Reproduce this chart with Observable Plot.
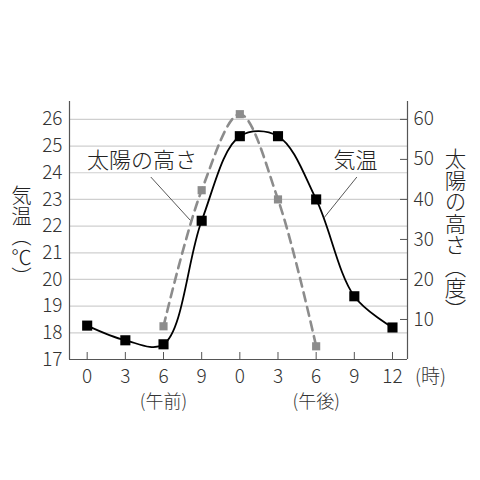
<!DOCTYPE html>
<html><head><meta charset="utf-8">
<script src="https://cdn.jsdelivr.net/npm/d3@7"></script>
<script src="https://cdn.jsdelivr.net/npm/@observablehq/plot@0.6"></script>
<style>body{margin:0;background:#fff}</style>
</head><body><div id="chart"></div>
<script>
// data
const hours = [0, 3, 6, 9, 12, 15, 18, 21, 24];
const hourLabels = ["0", "3", "6", "9", "0", "3", "6", "9", "12"];
const temperature = [18.27, 17.72, 17.57, 22.2, 25.37, 25.37, 23.0, 19.37, 18.2];
const sunHours = [6, 9, 12, 15, 18];
const sunAltitude = [8.3, 42.3, 61.3, 40, 3.3];
const tempTicks = [17, 18, 19, 20, 21, 22, 23, 24, 25, 26];
const altTicks = [10, 20, 30, 40, 50, 60];
const periodLabels = ["(午前)", "(午後)"];
const periodHours = [6, 18];
const labels = ["太陽の高さ", "気温"];
const labelHours = [4.3, 21.1];
const labelTemps = [24.45, 24.45];
const leaderX1 = [5.0, 21.2];
const leaderY1 = [23.84, 23.84];
const leaderX2 = [8.1, 18.6];
const leaderY2 = [22.22, 22.3];

const xMin = -1.39, xMax = 25.18, yMin = 17, yMax = 26.67;
const altToTemp = a => 17 + a * 9 / 60;
const tempToAlt = t => (t - 17) * 60 / 9;
const pxPerX = (480 - 69 - 73) / (xMax - xMin);
const pxPerY = (480 - 101 - 121) / (yMax - yMin);

const font = "'Noto Sans CJK JP', 'Noto Sans', sans-serif";
const tempData = hours.map((h, i) => ({h, v: temperature[i]}));
const sunData = sunHours.map((h, i) => ({h, v: altToTemp(sunAltitude[i])}));

const chart = Plot.plot({
  width: 480, height: 480,
  marginLeft: 69, marginRight: 73, marginTop: 101, marginBottom: 121,
  style: {fontFamily: font, background: "#fff", color: "#333", overflow: "visible"},
  x: {domain: [xMin, xMax], axis: null},
  y: {domain: [yMin, yMax], axis: null},
  marks: [
    Plot.ruleY(tempTicks.slice(1), {stroke: "#cfcfcf", strokeWidth: 1.2}),
    // right inward ticks
    Plot.ruleY(altTicks.map(altToTemp), {x1: xMax - 7 / pxPerX, x2: xMax, stroke: "#555", strokeWidth: 1}),
    // bottom inward ticks
    Plot.ruleX(hours, {y1: yMin, y2: yMin + 7 / pxPerY, stroke: "#555", strokeWidth: 1}),
    Plot.ruleX([xMin, xMax], {y1: yMin, y2: yMax, stroke: "#555", strokeWidth: 1.2}),
    Plot.ruleY([yMin], {stroke: "#555", strokeWidth: 1.2}),
    Plot.axisY({anchor: "left", label: null, ticks: tempTicks, tickSize: 0, tickPadding: 7, fontSize: 19, fontWeight: 300}),
    Plot.axisY({anchor: "right", label: null, ticks: altTicks.map(altToTemp), tickFormat: t => String(Math.round(tempToAlt(t))), tickSize: 0, tickPadding: 6, fontSize: 19, fontWeight: 300}),
    Plot.axisX({anchor: "bottom", label: null, ticks: hours, tickFormat: (d) => hourLabels[hours.indexOf(d)], tickSize: 0, tickPadding: 10, fontSize: 19, fontWeight: 300}),
    Plot.text(["(時)"], {x: 24, y: yMin, dx: 38, dy: 17, fontSize: 19, fontWeight: 300, fill: "#333"}),
    Plot.text(periodLabels, {x: (d, i) => periodHours[i], y: yMin, dy: 43, fontSize: 18, fontWeight: 300, fill: "#333"}),
    // sun altitude
    Plot.line(sunData, {x: "h", y: "v", curve: "catmull-rom", stroke: "#8c8c8c", strokeWidth: 2.6, strokeDasharray: "9,6"}),
    Plot.dot(sunData, {x: "h", y: "v", symbol: "square", r: 4.6, fill: "#8c8c8c", stroke: "none"}),
    // temperature
    Plot.line(tempData, {x: "h", y: "v", curve: "catmull-rom", stroke: "#000", strokeWidth: 1.8}),
    Plot.dot(tempData, {x: "h", y: "v", symbol: "square", r: 5.7, fill: "#000", stroke: "none"}),
    // annotations
    Plot.link(labels, {x1: (d, i) => leaderX1[i], y1: (d, i) => leaderY1[i], x2: (d, i) => leaderX2[i], y2: (d, i) => leaderY2[i], stroke: "#444", strokeWidth: 0.9}),
    Plot.text(labels, {x: (d, i) => labelHours[i], y: (d, i) => labelTemps[i], fontSize: 22, fontWeight: 300, fill: "#222"}),
    // vertical titles
    Plot.text(["気温（℃）"], {frameAnchor: "left", dx: -48, dy: 6, fontSize: 20.5, fontWeight: 300, fill: "#222", textAnchor: "middle"}),
    Plot.text(["太陽の高さ（度）"], {frameAnchor: "right", dx: 48, dy: 4, fontSize: 21.5, fontWeight: 300, fill: "#222", textAnchor: "middle"})
  ]
});

const vertical = ["気温（℃）", "太陽の高さ（度）"];
d3.select(chart).selectAll("text")
  .filter(function() { return vertical.includes(this.textContent); })
  .attr("y", null)
  .style("writing-mode", "vertical-rl")
  .style("text-orientation", "mixed");

document.getElementById("chart").appendChild(chart);
</script>
</body></html>
